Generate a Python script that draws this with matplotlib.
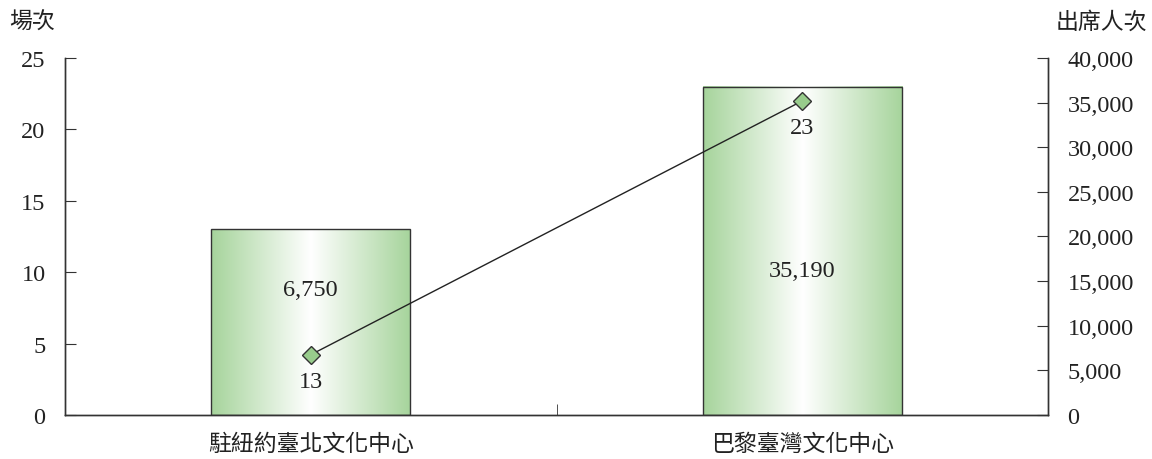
import matplotlib.pyplot as plt
import numpy as np
from matplotlib.colors import LinearSegmentedColormap
from matplotlib.ticker import FuncFormatter

# ===== data =====
CATEGORIES = ["駐紐約臺北文化中心", "巴黎臺灣文化中心"]
SESSIONS = [13, 23]          # 場次 (left axis, bars)
ATTENDANCE = [6750, 35190]   # 出席人次 (right axis, line)

SERIF = ["Liberation Serif", "DejaVu Serif"]
CJK = ["Noto Sans CJK TC", "DejaVu Sans"]

BAR_W = 0.405
GREEN = "#a6d49b"
NUM_FS = 17.5
CJK_FS = 16.5

fig = plt.figure(figsize=(11.52, 4.6), dpi=100)
ax = fig.add_axes([65 / 1152, 1 - 416 / 460, (1048 - 65) / 1152, (416 - 59) / 460])
ax2 = ax.twinx()

x = np.arange(len(CATEGORIES))

# gradient bars: green edges, white center
cmap = LinearSegmentedColormap.from_list("g", [GREEN, "#ffffff", GREEN])
grad = np.linspace(0, 1, 256).reshape(1, -1)
bars = ax.bar(x, SESSIONS, width=BAR_W, facecolor="none", edgecolor="#333333",
              linewidth=1.0, zorder=3)
for b in bars:
    x0, y0 = b.get_x(), b.get_y()
    ax.imshow(grad, cmap=cmap, aspect="auto", interpolation="bicubic",
              extent=(x0, x0 + b.get_width(), y0, y0 + b.get_height()), zorder=2)
ax.set_xlim(-0.5, len(CATEGORIES) - 0.5)
ax.set_ylim(0, 25)
ax2.set_ylim(0, 40000)

# line on right axis
ax2.plot(x, ATTENDANCE, color="#222222", linewidth=1.0, marker="D", markersize=9,
         markerfacecolor="#98cc8c", markeredgecolor="#333333", markeredgewidth=1.0,
         zorder=5)

# labels as in the original (numbers appear swapped)
for xi, s, a in zip(x, SESSIONS, ATTENDANCE):
    ax2.annotate(f"{s}", (xi, a), xytext=(0, -19), textcoords="offset points",
                 ha="center", va="center", fontsize=NUM_FS, family=SERIF, color="#222222")
label_y = [8.8, 10.1]
for xi, a, ly in zip(x, ATTENDANCE, label_y):
    ax.text(xi, ly, f"{a:,}", ha="center", va="center", fontsize=NUM_FS,
            family=SERIF, color="#222222", zorder=6)

# axes styling
for a_ in (ax, ax2):
    a_.spines["top"].set_visible(False)
    for s in ("left", "right", "bottom"):
        a_.spines[s].set_color("#333333")
        a_.spines[s].set_linewidth(1.0)

ax.set_yticks(range(0, 26, 5))
ax2.set_yticks(range(0, 40001, 5000))
ax2.yaxis.set_major_formatter(FuncFormatter(lambda v, p: f"{int(v):,}"))
ax.tick_params(axis="y", direction="in", length=8, color="#333333", pad=14)
ax2.tick_params(axis="y", direction="in", length=8, color="#333333", pad=14)

ax.set_xticks(x)
ax.set_xticklabels(CATEGORIES, family=CJK, fontsize=CJK_FS)
ax.set_xticks([-0.5, 0.5, 1.5], minor=True)
ax.tick_params(axis="x", which="major", length=0, pad=12)
ax.tick_params(axis="x", which="minor", direction="in", length=8, color="#333333")

for lab in ax.get_yticklabels() + ax2.get_yticklabels():
    lab.set_family(SERIF)
    lab.set_fontsize(NUM_FS)
    lab.set_color("#222222")
for lab in ax.get_xticklabels():
    lab.set_color("#222222")

fig.text(9 / 1152, 1 - 22 / 460, "場次", family=CJK, fontsize=CJK_FS,
         ha="left", va="center", color="#222222")
fig.text(1147 / 1152, 1 - 22 / 460, "出席人次", family=CJK, fontsize=CJK_FS,
         ha="right", va="center", color="#222222")

fig.savefig("out.png", dpi=100)
